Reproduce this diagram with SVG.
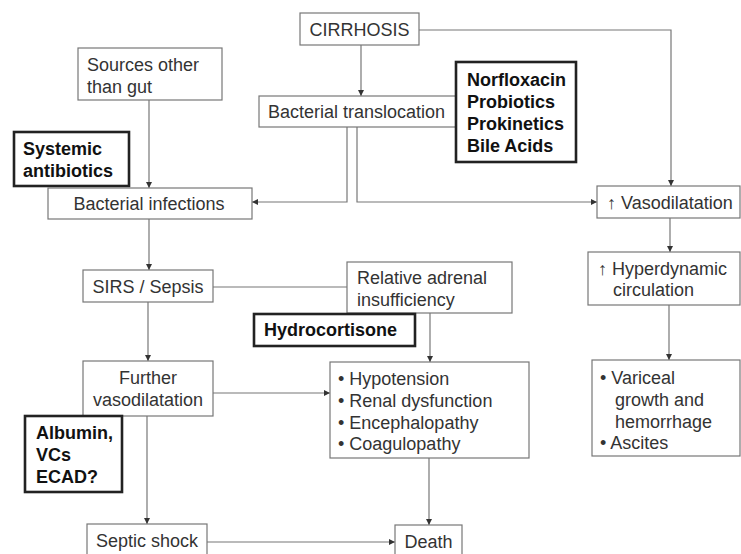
<svg xmlns="http://www.w3.org/2000/svg" width="741" height="554" viewBox="0 0 741 554">
<style>
.bx{fill:#fff;stroke:#777;stroke-width:1.2}
.tb{fill:#fff;stroke:#222;stroke-width:2.6}
.t{font-family:"Liberation Sans",Arial,sans-serif;font-size:18px;fill:#333}
.b{font-family:"Liberation Sans",Arial,sans-serif;font-size:18px;font-weight:bold;fill:#111}
.c{stroke:#777;stroke-width:1.2;fill:none}
.ca{stroke:#777;stroke-width:1.2;fill:none;marker-end:url(#ah)}
</style>
<defs>
<marker id="ah" viewBox="0 0 10 10" refX="10" refY="5" markerWidth="6" markerHeight="6" markerUnits="userSpaceOnUse" orient="auto">
<path d="M0,0 L10,5 L0,10 Z" fill="#333"/>
</marker>
</defs>
<rect width="741" height="554" fill="#fff"/>
<g id="connectors">
<path class="ca" d="M361,45 V96"/>
<path class="ca" d="M419,30 H671 V186"/>
<path class="ca" d="M149,100 V188"/>
<path class="ca" d="M347,127 V202 H252"/>
<path class="ca" d="M357,127 V202 H597"/>
<path class="ca" d="M149,219 V270"/>
<path class="c" d="M213,287 H347"/>
<path class="ca" d="M148,302 V361"/>
<path class="ca" d="M430,313 V362"/>
<path class="ca" d="M213,393 H330"/>
<path class="ca" d="M147,416 V524"/>
<path class="ca" d="M429,458 V525"/>
<path class="ca" d="M207,542 H395"/>
<path class="ca" d="M670,218 V252"/>
<path class="ca" d="M669,305 V360"/>
</g>
<g id="cirrhosis"><rect class="bx" x="300" y="13" width="119" height="32"/><text class="t" x="359.5" y="35.5" text-anchor="middle">CIRRHOSIS</text></g>
<g id="sources"><rect class="bx" x="78" y="48" width="144" height="52"/><text class="t" x="87" y="71">Sources other</text><text class="t" x="87" y="93">than gut</text></g>
<g id="translocation"><rect class="bx" x="259" y="96" width="197" height="31"/><text class="t" x="268" y="118">Bacterial translocation</text></g>
<g id="norfloxacin"><rect class="tb" x="456" y="62" width="120" height="100"/><text class="b" x="467" y="86">Norfloxacin</text><text class="b" x="467" y="108">Probiotics</text><text class="b" x="467" y="130">Prokinetics</text><text class="b" x="467" y="152">Bile Acids</text></g>
<g id="systemic"><rect class="tb" x="14" y="132" width="115" height="54"/><text class="b" x="23" y="155">Systemic</text><text class="b" x="23" y="177">antibiotics</text></g>
<g id="infections"><rect class="bx" x="48" y="188" width="204" height="31"/><text class="t" x="149" y="210" text-anchor="middle">Bacterial infections</text></g>
<g id="vasodilatation"><rect class="bx" x="597" y="186" width="143" height="32"/><text class="t" x="607" y="209">↑ Vasodilatation</text></g>
<g id="sirs"><rect class="bx" x="83" y="270" width="130" height="32"/><text class="t" x="148" y="293" text-anchor="middle">SIRS / Sepsis</text></g>
<g id="adrenal"><rect class="bx" x="347" y="262" width="165" height="51"/><text class="t" x="357" y="284">Relative adrenal</text><text class="t" x="357" y="306">insufficiency</text></g>
<g id="hyperdynamic"><rect class="bx" x="588" y="252" width="152" height="53"/><text class="t" x="598" y="275">↑ Hyperdynamic</text><text class="t" x="613" y="296">circulation</text></g>
<g id="hydrocortisone"><rect class="tb" x="254" y="314" width="161" height="32"/><text class="b" x="264" y="336">Hydrocortisone</text></g>
<g id="further"><rect class="bx" x="83" y="361" width="130" height="55"/><text class="t" x="148" y="384" text-anchor="middle">Further</text><text class="t" x="148" y="406" text-anchor="middle">vasodilatation</text></g>
<g id="hypotension"><rect class="bx" x="330" y="362" width="199" height="96"/><text class="t" x="338" y="385">• Hypotension</text><text class="t" x="338" y="407">• Renal dysfunction</text><text class="t" x="338" y="429">• Encephalopathy</text><text class="t" x="338" y="450">• Coagulopathy</text></g>
<g id="variceal"><rect class="bx" x="592" y="360" width="148" height="96"/><text class="t" x="600" y="384">• Variceal</text><text class="t" x="615" y="406">growth and</text><text class="t" x="615" y="428">hemorrhage</text><text class="t" x="600" y="449">• Ascites</text></g>
<g id="albumin"><rect class="tb" x="25" y="416" width="97" height="76"/><text class="b" x="36" y="439">Albumin,</text><text class="b" x="36" y="461">VCs</text><text class="b" x="36" y="483">ECAD?</text></g>
<g id="septic"><rect class="bx" x="87" y="524" width="120" height="40"/><text class="t" x="147" y="547" text-anchor="middle">Septic shock</text></g>
<g id="death"><rect class="bx" x="395" y="525" width="67" height="40"/><text class="t" x="428.5" y="548" text-anchor="middle">Death</text></g>
</svg>
